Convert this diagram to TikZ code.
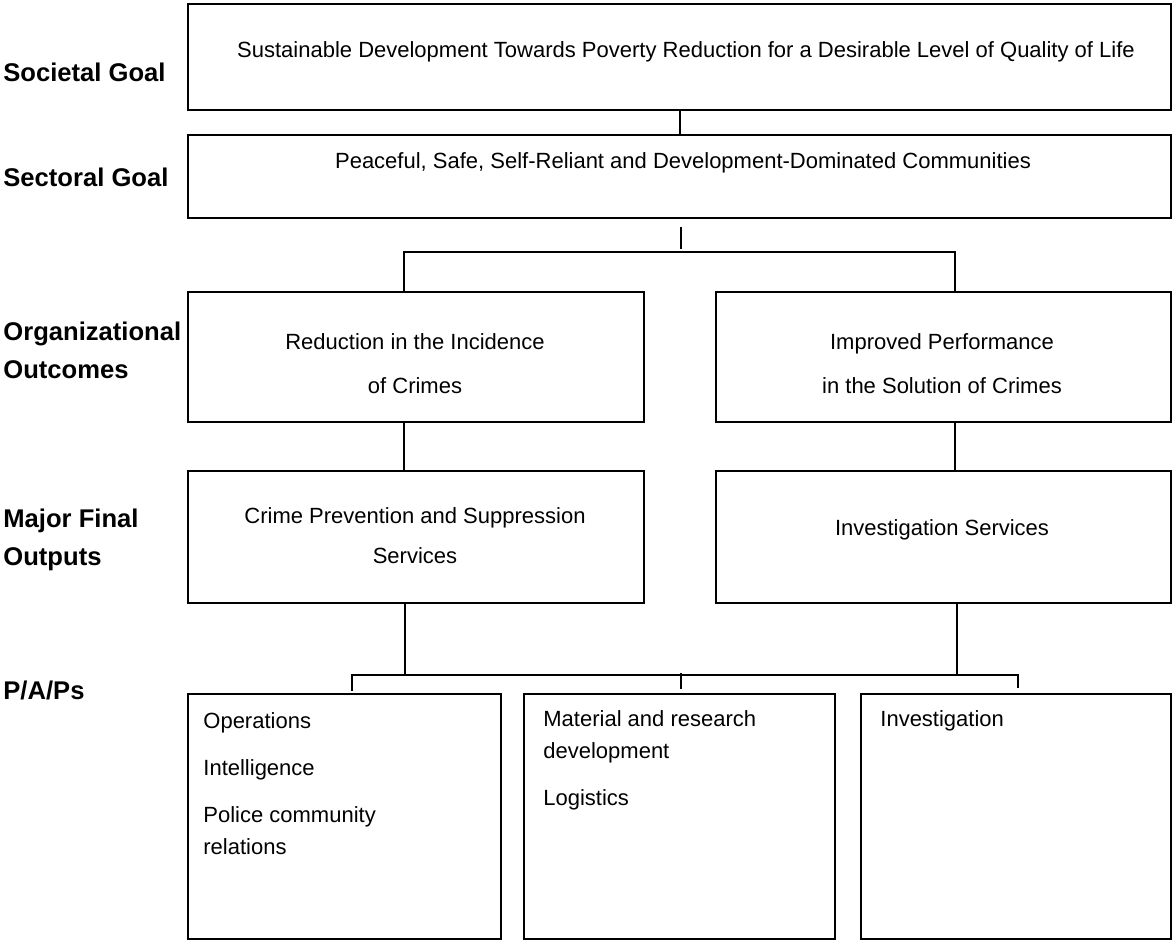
\documentclass[tikz,border=0pt]{standalone}
\usepackage{fontspec}
\setmainfont{Liberation Sans}
\usetikzlibrary{positioning,calc}
\tikzset{level/.style={anchor=west, align=left, inner sep=0pt, font=\fontsize{12.8}{19}\selectfont\bfseries},
	box/.style={rectangle, draw=black, line width=1pt, inner sep=0pt, anchor=north west},
	boxtext/.style={align=center, inner sep=0pt, font=\fontsize{11}{22}\selectfont},
	listtext/.style={align=left, anchor=north west, inner sep=0pt, font=\fontsize{11}{16}\selectfont},
	link/.style={line width=1pt, draw=black}}

\begin{document}
\begin{tikzpicture}[x=0.5pt,y=-0.5pt]
	\useasboundingbox (0,0) rectangle (1172,939);
	% level names on the left
	\node[level] (lsoc) at (3,72) {Societal Goal};
	\node[level] (lsec) at (3,177) {Sectoral Goal};
	\node[level] (loo) at (3,350) {Organizational\\Outcomes};
	\node[level] (lmfo) at (3,540) {Major Final\\Outputs};
	\node[level] (lpap) at (3,690) {P/A/Ps};
	% boxes
	\node[box, minimum width=491.5pt, minimum height=53pt] (soc) at (187,3) {};
	\node[box, minimum width=491.5pt, minimum height=41.5pt] (sec) at (187,134) {};
	\node[box, minimum width=228pt, minimum height=65pt] (oo1) at (187,291) {};
	\node[box, minimum width=227.5pt, minimum height=65pt] (oo2) at (715,291) {};
	\node[box, minimum width=228pt, minimum height=66pt] (mfo1) at (187,470) {};
	\node[box, minimum width=227.5pt, minimum height=66pt] (mfo2) at (715,470) {};
	\node[box, minimum width=156.5pt, minimum height=122.5pt] (pap1) at (187,693) {};
	\node[box, minimum width=155.5pt, minimum height=122.5pt] (pap2) at (523,693) {};
	\node[box, minimum width=155pt, minimum height=122.5pt] (pap3) at (860,693) {};
	% texts in the boxes
	\node[boxtext] (tsoc) at (686,52) {Sustainable Development Towards Poverty Reduction for a Desirable Level of Quality of Life};
	\node[boxtext] (tsec) at (683,163) {Peaceful, Safe, Self-Reliant and Development-Dominated Communities};
	\node[boxtext] (too1) at (415,364) {Reduction in the Incidence\\of Crimes};
	\node[boxtext] (too2) at (942,364) {Improved Performance\\in the Solution of Crimes};
	\node[boxtext, font=\fontsize{11}{20}\selectfont] (tmfo1) at (415,536) {Crime Prevention and Suppression\\Services};
	\node[boxtext] (tmfo2) at (942,530) {Investigation Services};
	\node[listtext] (tpap1) at (203,712) {Operations\\[7.5pt]Intelligence\\[7.5pt]Police community\\relations};
	\node[listtext] (tpap2) at (543,710) {Material and research\\development\\[7.5pt]Logistics};
	\node[listtext] (tpap3) at (880,710) {Investigation};
	% connectors
	\coordinate (s1) at (681,227);
	\coordinate (s2) at (681,249);
	\coordinate (b1w) at (404,252);
	\coordinate (b1e) at (955,252);
	\coordinate (d1) at (405,675);
	\coordinate (d2) at (957,675);
	\coordinate (b2w) at (352,675);
	\coordinate (b2m) at (681,673);
	\coordinate (b2e) at (1018,675);
	\coordinate (t1) at (352,691);
	\coordinate (t2) at (681,689);
	\coordinate (t3) at (1018,688);
	\draw[link] (soc.south) -- (sec.north);
	\draw[link] (s1) -- (s2);
	\draw[link] (oo1.north -| b1w) |- (b1e) -- (oo2.north -| b1e);
	\draw[link] (oo1.south -| b1w) -- (mfo1.north -| b1w);
	\draw[link] (oo2.south -| b1e) -- (mfo2.north -| b1e);
	\draw[link] (mfo1.south -| d1) -- (d1);
	\draw[link] (mfo2.south -| d2) -- (d2);
	\draw[link] (t1) -- (b2w) -- (b2e) -- (t3);
	\draw[link] (b2m) -- (t2);
\end{tikzpicture}
\end{document}
